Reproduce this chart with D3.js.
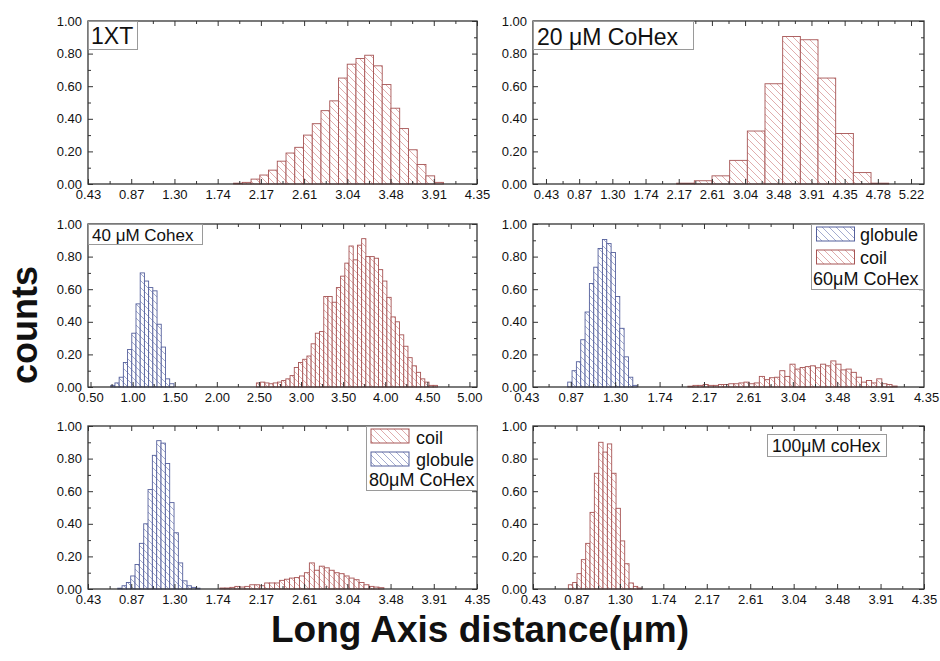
<!DOCTYPE html>
<html>
<head>
<meta charset="utf-8">
<script src="https://d3js.org/d3.v7.min.js"></script>
<style>
  body { margin: 0; background: #fff; }
  text { font-family: "Liberation Sans", Arial, sans-serif; fill: #111; }
</style>
</head>
<body>
<svg width="940" height="661"></svg>
<script>
// ---- tick values & labels ----
var ticks435 = [0.435, 0.87, 1.305, 1.74, 2.175, 2.61, 3.045, 3.48, 3.915, 4.35];
var labels435 = ["0.43", "0.87", "1.30", "1.74", "2.17", "2.61", "3.04", "3.48", "3.91", "4.35"];
var ticks522 = [0.435, 0.87, 1.305, 1.74, 2.175, 2.61, 3.045, 3.48, 3.915, 4.35, 4.785, 5.22];
var labels522 = ["0.43", "0.87", "1.30", "1.74", "2.17", "2.61", "3.04", "3.48", "3.91", "4.35", "4.78", "5.22"];
var ticks500 = [0.5, 1.0, 1.5, 2.0, 2.5, 3.0, 3.5, 4.0, 4.5, 5.0];
var labels500 = ["0.50", "1.00", "1.50", "2.00", "2.50", "3.00", "3.50", "4.00", "4.50", "5.00"];
var yTicks = [0, 0.2, 0.4, 0.6, 0.8, 1.0];
var yLabels = ["0.00", "0.20", "0.40", "0.60", "0.80", "1.00"];

// ---- histogram data (bin start, bin width, counts) ----
var xt1Start = 1.90, xt1Width = 0.088;
var xt1Coil = [0.005, 0.01, 0.03, 0.055, 0.085, 0.14, 0.19, 0.225, 0.30, 0.37, 0.45, 0.51,
  0.65, 0.735, 0.77, 0.79, 0.725, 0.61, 0.465, 0.34, 0.21, 0.12, 0.05, 0.01];

var c20Start = 2.148, c20Width = 0.2316;
var c20Coil = [0.005, 0.02, 0.05, 0.145, 0.325, 0.615, 0.905, 0.885, 0.65, 0.31, 0.07, 0.005];

var c40GlobStart = 0.74, c40GlobWidth = 0.05;
var c40Globule = [0.01, 0.025, 0.06, 0.15, 0.23, 0.33, 0.51, 0.70, 0.65, 0.61, 0.59, 0.385, 0.245, 0.05, 0.02];
var c40CoilStart = 2.47, c40CoilWidth = 0.05;
var c40Coil = [0.025, 0.03, 0.025, 0.02, 0.025, 0.03, 0.04, 0.05, 0.07, 0.12, 0.15, 0.17, 0.19,
  0.265, 0.33, 0.34, 0.555, 0.555, 0.52, 0.61, 0.68, 0.76, 0.865, 0.78, 0.87, 0.91, 0.80, 0.80,
  0.79, 0.72, 0.65, 0.55, 0.43, 0.40, 0.32, 0.25, 0.18, 0.13, 0.09, 0.05, 0.03, 0.01, 0.01];

var c60GlobStart = 0.84, c60GlobWidth = 0.0425;
var c60Globule = [0.03, 0.10, 0.155, 0.29, 0.46, 0.635, 0.735, 0.85, 0.905, 0.88, 0.825, 0.555, 0.36, 0.185, 0.06, 0.01];
var c60CoilStart = 2.017, c60CoilWidth = 0.05;
var c60Coil = [0.005, 0.01, 0.01, 0.015, 0.01, 0.01, 0.015, 0.015, 0.02, 0.02, 0.025, 0.03, 0.02, 0.025,
  0.065, 0.045, 0.057, 0.06, 0.10, 0.065, 0.14, 0.11, 0.12, 0.125, 0.13, 0.118, 0.14, 0.13, 0.16,
  0.14, 0.105, 0.11, 0.09, 0.06, 0.03, 0.04, 0.025, 0.05, 0.02, 0.015, 0.006];

var c80GlobStart = 0.734, c80GlobWidth = 0.0436;
var c80Globule = [0.005, 0.02, 0.04, 0.08, 0.15, 0.28, 0.40, 0.61, 0.82, 0.91, 0.895, 0.77, 0.53, 0.345, 0.16, 0.05, 0.02, 0.01, 0.005];
var c80CoilStart = 1.763, c80CoilWidth = 0.05;
var c80Coil = [0.006, 0.006, 0.01, 0.016, 0.012, 0.016, 0.026, 0.026, 0.02, 0.037, 0.037, 0.037, 0.053,
  0.06, 0.067, 0.07, 0.08, 0.10, 0.16, 0.115, 0.14, 0.13, 0.115, 0.10, 0.094, 0.08, 0.067, 0.057,
  0.04, 0.026, 0.016, 0.012, 0.008];

var c100Start = 0.789, c100Width = 0.0434;
var c100Coil = [0.026, 0.04, 0.094, 0.18, 0.28, 0.47, 0.71, 0.90, 0.84, 0.89, 0.71, 0.495, 0.295, 0.155, 0.037, 0.016, 0.006];

var svg = d3.select("svg");
var defs = svg.append("defs");

var colors = {
  coil: { stroke: "#a65454", hatch: "#dca4a4" },
  globule: { stroke: "#55609c", hatch: "#9aa2ca" }
};

function hatch(id, color) {
  var p = defs.append("pattern").attr("id", id)
    .attr("patternUnits", "userSpaceOnUse").attr("width", 7).attr("height", 7);
  p.append("rect").attr("width", 7).attr("height", 7).attr("fill", "#fff");
  p.append("path").attr("d", "M0,0L7,7M-1,6L1,8M6,-1L8,1")
    .attr("stroke", color).attr("stroke-width", 0.9);
}
hatch("hatch-coil", colors.coil.hatch);
hatch("hatch-globule", colors.globule.hatch);

var cols = [[88, 477], [533, 924]];
var rows = [[21, 184], [224, 387], [426, 589]];

var panels = [
  { c: 0, r: 0, domain: [0.435, 4.35], ticks: ticks435, labels: labels435,
    series: [{ start: xt1Start, width: xt1Width, values: xt1Coil, kind: "coil" }] },
  { c: 1, r: 0, domain: [0.265, 5.39], ticks: ticks522, labels: labels522,
    series: [{ start: c20Start, width: c20Width, values: c20Coil, kind: "coil" }] },
  { c: 0, r: 1, domain: [0.47, 5.09], ticks: ticks500, labels: labels500,
    series: [{ start: c40GlobStart, width: c40GlobWidth, values: c40Globule, kind: "globule" },
             { start: c40CoilStart, width: c40CoilWidth, values: c40Coil, kind: "coil" }] },
  { c: 1, r: 1, domain: [0.5, 4.33], ticks: ticks435, labels: labels435,
    series: [{ start: c60GlobStart, width: c60GlobWidth, values: c60Globule, kind: "globule" },
             { start: c60CoilStart, width: c60CoilWidth, values: c60Coil, kind: "coil" }] },
  { c: 0, r: 2, domain: [0.435, 4.35], ticks: ticks435, labels: labels435,
    series: [{ start: c80GlobStart, width: c80GlobWidth, values: c80Globule, kind: "globule" },
             { start: c80CoilStart, width: c80CoilWidth, values: c80Coil, kind: "coil" }] },
  { c: 1, r: 2, domain: [0.435, 4.35], ticks: ticks435, labels: labels435,
    series: [{ start: c100Start, width: c100Width, values: c100Coil, kind: "coil" }] }
];

function inside(dom) { return function (v) { return v >= dom[0] - 1e-9 && v <= dom[1] + 1e-9; }; }

panels.forEach(function (p) {
  var left = cols[p.c][0], right = cols[p.c][1];
  var top = rows[p.r][0], bottom = rows[p.r][1];
  var x = d3.scaleLinear().domain(p.domain).range([left, right]);
  var y = d3.scaleLinear().domain([0, 1]).range([bottom, top]);
  var g = svg.append("g");

  // bars
  p.series.forEach(function (s) {
    g.append("g").selectAll("rect")
      .data(s.values)
      .enter().append("rect")
      .attr("x", function (d, i) { return x(s.start + i * s.width); })
      .attr("width", function (d, i) { return x(s.start + (i + 1) * s.width) - x(s.start + i * s.width); })
      .attr("y", function (d) { return y(d); })
      .attr("height", function (d) { return y(0) - y(d); })
      .attr("fill", "url(#hatch-" + s.kind + ")")
      .attr("stroke", colors[s.kind].stroke)
      .attr("stroke-width", 0.9);
  });

  // ticks (inward on all sides)
  var major = p.ticks.filter(inside(p.domain));
  var minor = [];
  for (var i = 0; i < p.ticks.length - 1; i++) minor.push((p.ticks[i] + p.ticks[i + 1]) / 2);
  minor = minor.filter(inside(p.domain));
  var yMinor = d3.range(0.1, 1, 0.2);

  function marks(axis, tx, ty) {
    var a = g.append("g").attr("transform", "translate(" + tx + "," + ty + ")").call(axis);
    a.select(".domain").remove();
    a.selectAll("line").attr("stroke", "#333");
  }
  marks(d3.axisBottom(x).tickValues(major).tickSize(-5).tickFormat(""), 0, bottom);
  marks(d3.axisBottom(x).tickValues(minor).tickSize(-3).tickFormat(""), 0, bottom);
  marks(d3.axisTop(x).tickValues(major).tickSize(-5).tickFormat(""), 0, top);
  marks(d3.axisTop(x).tickValues(minor).tickSize(-3).tickFormat(""), 0, top);
  marks(d3.axisLeft(y).tickValues(yTicks).tickSize(-5).tickFormat(""), left, 0);
  marks(d3.axisLeft(y).tickValues(yMinor).tickSize(-3).tickFormat(""), left, 0);
  marks(d3.axisRight(y).tickValues(yTicks).tickSize(-5).tickFormat(""), right, 0);
  marks(d3.axisRight(y).tickValues(yMinor).tickSize(-3).tickFormat(""), right, 0);

  // tick labels
  var xl = g.append("g").attr("transform", "translate(0," + bottom + ")")
    .call(d3.axisBottom(x).tickValues(p.ticks).tickSize(0).tickPadding(6)
      .tickFormat(function (d, i) { return p.labels[i]; }));
  xl.select(".domain").remove();
  var yl = g.append("g").attr("transform", "translate(" + left + ",0)")
    .call(d3.axisLeft(y).tickValues(yTicks).tickSize(0).tickPadding(6)
      .tickFormat(function (d, i) { return yLabels[i]; }));
  yl.select(".domain").remove();
  g.selectAll(".tick text").attr("font-size", 13)
    .attr("font-family", "'Liberation Sans', Arial, sans-serif").attr("fill", "#111");

  // frame
  g.append("rect").attr("x", left).attr("y", top)
    .attr("width", right - left).attr("height", bottom - top)
    .attr("fill", "none").attr("stroke", "#333").attr("stroke-width", 1.3);
});

// ---- labels & legends ----
function box(x0, y0, w, h) {
  svg.append("rect").attr("x", x0).attr("y", y0).attr("width", w).attr("height", h)
    .attr("fill", "#fff").attr("stroke", "#9a9a9a").attr("stroke-width", 1);
}
function label(x0, y0, txt, size) {
  svg.append("text").attr("x", x0).attr("y", y0).attr("font-size", size).text(txt);
}
function swatch(x0, y0, kind) {
  svg.append("rect").attr("x", x0).attr("y", y0).attr("width", 38).attr("height", 14)
    .attr("fill", "url(#hatch-" + kind + ")").attr("stroke", colors[kind].stroke).attr("stroke-width", 1);
}

box(88.5, 21.5, 49, 28);
label(91, 44, "1XT", 23);

box(533.5, 21.5, 160, 28);
label(537, 45, "20 \u03bcM CoHex", 23);

box(88.5, 224.5, 114, 20);
label(92, 240.5, "40 \u03bcM Cohex", 17);

box(811.5, 224.5, 112, 65);
swatch(816.5, 227, "globule");
label(860, 241, "globule", 18);
swatch(816.5, 250, "coil");
label(860, 263.5, "coil", 18);
label(813, 285, "60\u03bcM CoHex", 18);

box(366.5, 426.5, 110.5, 64);
swatch(371, 429, "coil");
label(416, 443.5, "coil", 18);
swatch(371, 452, "globule");
label(416, 466, "globule", 18);
label(369, 486, "80\u03bcM CoHex", 18);

box(767.5, 434.5, 119, 22);
label(772, 452, "100\u03bcM coHex", 17.5);

// axis titles
svg.append("text")
  .attr("transform", "translate(37,325) rotate(-90)")
  .attr("text-anchor", "middle")
  .attr("font-size", 36).attr("font-weight", "bold")
  .text("counts");

svg.append("text")
  .attr("x", 480).attr("y", 642)
  .attr("text-anchor", "middle")
  .attr("font-size", 37).attr("font-weight", "bold")
  .text("Long Axis distance(\u03bcm)");
</script>
</body>
</html>
